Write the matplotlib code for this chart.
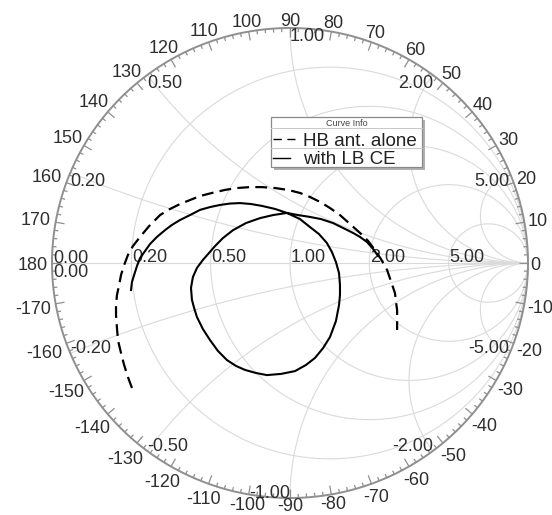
import numpy as np
import matplotlib
matplotlib.use('Agg')
import matplotlib.pyplot as plt
from matplotlib.patches import Rectangle
from matplotlib.collections import LineCollection

plt.rcParams['font.family'] = ['Liberation Sans', 'DejaVu Sans']
plt.rcParams['lines.scale_dashes'] = False

# Smith chart grid values
r_circles = [0.2, 0.5, 1.0, 2.0, 5.0]
x_arcs = [0.2, 0.5, 1.0, 2.0, 5.0]
angle_labels = list(range(-170, 190, 10))

hb_re = [-0.664, -0.681, -0.697, -0.710, -0.723, -0.727, -0.731, -0.731, -0.727, -0.718,
         -0.710, -0.697, -0.681, -0.660, -0.630, -0.592, -0.546, -0.504, -0.462, -0.420,
         -0.378, -0.328, -0.273, -0.223, -0.168, -0.118, -0.063, -0.008, 0.042, 0.084,
         0.126, 0.168, 0.210, 0.252, 0.294, 0.328, 0.357, 0.382, 0.408, 0.424,
         0.441, 0.445, 0.450, 0.450, 0.450]
hb_im = [-0.532, -0.485, -0.434, -0.383, -0.328, -0.277, -0.221, -0.179, -0.136, -0.094,
         -0.051, -0.009, 0.034, 0.072, 0.111, 0.157, 0.204, 0.230, 0.251, 0.268,
         0.285, 0.298, 0.311, 0.319, 0.323, 0.323, 0.319, 0.311, 0.298, 0.281,
         0.260, 0.234, 0.204, 0.166, 0.128, 0.094, 0.055, 0.017, -0.030, -0.077,
         -0.128, -0.162, -0.200, -0.243, -0.285]

lb_re = [-0.668, -0.664, -0.655, -0.643, -0.630, -0.609, -0.588, -0.559, -0.525, -0.496,
         -0.462, -0.420, -0.378, -0.336, -0.294, -0.252, -0.210, -0.164, -0.118, -0.063,
         -0.013, 0.042, 0.084, 0.122, 0.155, 0.176, 0.193, 0.206, 0.210, 0.210,
         0.206, 0.193, 0.168, 0.139, 0.105, 0.067, 0.021, -0.038, -0.097, -0.143,
         -0.189, -0.227, -0.265, -0.303, -0.336, -0.366, -0.391, -0.403, -0.412, -0.416,
         -0.408, -0.391, -0.366, -0.340, -0.315, -0.282, -0.239, -0.185, -0.126, -0.071,
         -0.013, 0.034, 0.084, 0.130, 0.181, 0.223, 0.265, 0.294, 0.324, 0.349,
         0.370]
lb_im = [-0.115, -0.081, -0.051, -0.013, 0.021, 0.051, 0.081, 0.111, 0.140, 0.162,
         0.183, 0.204, 0.226, 0.238, 0.247, 0.253, 0.255, 0.251, 0.243, 0.230,
         0.213, 0.187, 0.153, 0.123, 0.085, 0.047, 0.004, -0.043, -0.094, -0.136,
         -0.179, -0.247, -0.315, -0.362, -0.404, -0.434, -0.460, -0.472, -0.477, -0.468,
         -0.455, -0.438, -0.413, -0.374, -0.328, -0.281, -0.230, -0.191, -0.157, -0.106,
         -0.060, -0.021, 0.013, 0.043, 0.072, 0.106, 0.140, 0.170, 0.191, 0.204,
         0.213, 0.204, 0.196, 0.187, 0.170, 0.149, 0.128, 0.111, 0.089, 0.060,
         0.030]

legend_title = 'Curve Info'
legend_labels = ['HB ant. alone', 'with LB CE']

W, H = 552, 515
CX, CY = 290, 263   # chart centre (px)
RX, RY = 238, 235   # chart radius (px)

fig = plt.figure(figsize=(W / 100, H / 100), dpi=100)
ax = fig.add_axes([0, 0, 1, 1])
ax.set_xlim(-CX / RX, (W - CX) / RX)
ax.set_ylim(-(H - CY) / RY, CY / RY)
ax.axis('off')


def px(x, y):
    return (x - CX) / RX, (CY - y) / RY


grid = dict(color='#dadada', lw=0.8, zorder=1)
txt_col = '#2e2e2e'
fs = 13

# resistance circles and reactance arcs
t = np.linspace(-np.pi / 2 + 1e-4, np.pi / 2 - 1e-4, 900)
for r in r_circles:
    z = r + 1j * np.tan(t)
    g = (z - 1) / (z + 1)
    ax.plot(g.real, g.imag, **grid)
rr = np.concatenate([[0], np.logspace(-3, 4, 700)])
for x in x_arcs:
    for s in (1, -1):
        z = rr + 1j * s * x
        g = (z - 1) / (z + 1)
        ax.plot(g.real, g.imag, **grid)
ax.plot([-1, 1], [0, 0], **grid)

# outer circle + ticks
th = np.linspace(0, 2 * np.pi, 720)
ax.plot(np.cos(th), np.sin(th), color='#8f8f8f', lw=1.4, zorder=3)
segs = []
for a in range(0, 360, 2):
    L = 9 if a % 10 == 0 else 4
    c, s = np.cos(np.radians(a)), np.sin(np.radians(a))
    segs.append([(c, s), (c * (1 - L / RX), s * (1 - L / RY))])
ax.add_collection(LineCollection(segs, colors='#8f8f8f', lw=0.9, zorder=3))

# angle labels outside
em = fs * 100 / 72
for a in angle_labels:
    lab = str(a)
    w = em * (0.556 * len(lab.lstrip('-')) + 0.333 * lab.startswith('-'))
    h = 0.72 * em
    c, s = np.cos(np.radians(a)), np.sin(np.radians(a))
    gap = 4 if c < -0.9 else (0 if s < -0.95 else 2)
    ext = abs(c) * w / 2 + abs(s) * h / 2 + gap
    ax.text(c * (RX + ext) / RX, s * (RY + ext) / RY, lab, ha='center',
            va='center_baseline', fontsize=fs, color=txt_col)

# resistance labels along the real axis
ax.text(-1 + 1 / RX, 0, '0.00', ha='left', va='baseline', fontsize=fs, color=txt_col)
ax.text(-1 + 1 / RX, -1 / RY, '0.00', ha='left', va='top', fontsize=fs, color=txt_col)
for r in r_circles:
    ax.text((r - 1) / (r + 1) + 1 / RX, 0.005, f'{r:.2f}', ha='left', va='baseline',
            fontsize=fs, color=txt_col)

# reactance labels at the rim
for x in x_arcs:
    for s in (1, -1):
        g = (1j * s * x - 1) / (1j * s * x + 1)
        if s > 0:
            ha = 'left' if x <= 1 else 'right'
            va = 'top'
        else:
            ha = 'left' if x < 1 else 'right'
            va = 'baseline'
        ax.text(g.real, g.imag, f'{s * x:.2f}', ha=ha, va=va, fontsize=fs, color=txt_col)

# traces
ax.plot(hb_re, hb_im, color='black', lw=1.6, dashes=(8.5, 4.5), zorder=5)
ax.plot(lb_re, lb_im, color='black', lw=1.5, zorder=5, solid_joinstyle='round')

# legend box
x0, y0 = px(271, 167)
x1, y1 = px(422, 117)
ax.add_patch(Rectangle((x0 + 3 / RX, y0 - 3 / RY), x1 - x0, y1 - y0, facecolor='#b0b0b0',
                       edgecolor='none', zorder=6))
ax.add_patch(Rectangle((x0, y0), x1 - x0, y1 - y0, facecolor='white',
                       edgecolor='#8a8a8a', lw=0.9, zorder=7))
for yy in (128, 148):
    ax.plot([x0, x1], [px(0, yy)[1]] * 2, color='#c8c8c8', lw=0.7, zorder=8)
ax.text(*px(346.5, 123), legend_title, ha='center', va='center', fontsize=6.5,
        color='#444444', zorder=8)
yl1 = px(0, 139)[1]
yl2 = px(0, 158)[1]
ax.plot([px(273, 0)[0], px(295, 0)[0]], [yl1, yl1], color='black', lw=1.0,
        dashes=(6, 4), zorder=8)
ax.plot([px(273, 0)[0], px(290, 0)[0]], [yl2, yl2], color='black', lw=1.0, zorder=8)
ax.text(px(303, 0)[0], yl1, legend_labels[0], ha='left', va='center_baseline',
        fontsize=13.5, color='#222222', zorder=8)
ax.text(px(303, 0)[0], yl2, legend_labels[1], ha='left', va='center_baseline',
        fontsize=13.5, color='#222222', zorder=8)

fig.savefig('out.png', dpi=100, facecolor='white')
